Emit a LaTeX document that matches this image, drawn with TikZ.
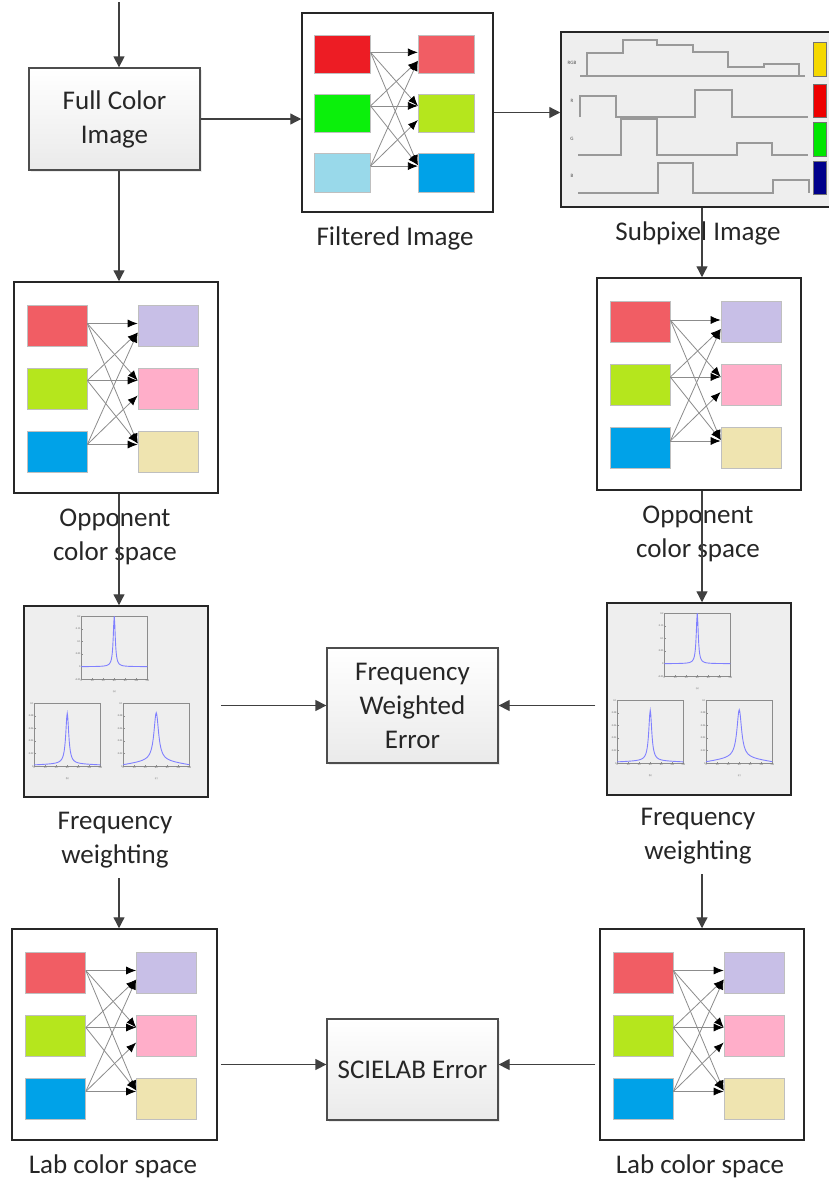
\documentclass[tikz,border=0pt]{standalone}
\usepackage{fontspec}
\setmainfont{Carlito}
\usetikzlibrary{arrows.meta,shadows,calc}

\definecolor{inkgray}{HTML}{262626}
\definecolor{flowcol}{HTML}{404040}
\definecolor{edgecol}{HTML}{4D4D4D}
\definecolor{framecol}{HTML}{262626}
\definecolor{boxgray}{HTML}{EAEAEA}
\definecolor{panel}{HTML}{EEEEEE}
\definecolor{curveblue}{HTML}{8080FF}
% chip colours
\definecolor{chipRed}{HTML}{ED1C24}
\definecolor{chipGreen}{HTML}{0BF00B}
\definecolor{chipSky}{HTML}{99D9EA}
\definecolor{chipSalmon}{HTML}{F15D64}
\definecolor{chipLime}{HTML}{B5E61D}
\definecolor{chipBlue}{HTML}{00A2E8}
\definecolor{chipLavender}{HTML}{C8BFE7}
\definecolor{chipRose}{HTML}{FFAEC9}
\definecolor{chipSand}{HTML}{EFE4B0}
% subpixel bars
\definecolor{barYellow}{HTML}{F5D800}
\definecolor{barRed}{HTML}{EE0000}
\definecolor{barGreen}{HTML}{00E600}
\definecolor{barNavy}{HTML}{00008B}

\newcommand\bodyfont{\fontsize{27}{34}\selectfont}

\tikzset{
  procbox/.style={draw=edgecol, line width=1.3pt, top color=white, bottom color=boxgray,
    drop shadow={opacity=0.15, shadow xshift=2pt, shadow yshift=-2pt},
    text=inkgray, align=center, font=\bodyfont, inner sep=0pt},
  frame/.style={draw=framecol, line width=1.5pt, fill=white, inner sep=0pt},
  grayframe/.style={frame, fill=panel},
  lbl/.style={text=inkgray, align=center, font=\bodyfont, inner sep=1pt},
  flow/.style={draw=flowcol, line width=1.3pt, -{Triangle[length=11pt,width=11pt]}},
  chip/.style={draw=black!25, line width=0.6pt, minimum width=60pt, minimum height=41pt, inner sep=0pt},
  mix/.style={draw=black!45, line width=0.8pt, -{Latex[length=10pt,width=8pt,color=black]}},
  axisline/.style={draw=black!45, line width=0.5pt},
  curve/.style={draw=curveblue, line width=0.9pt},
  tick/.style={font=\fontsize{2.6}{3}\selectfont, text=black!60, inner sep=0.5pt},
  wave/.style={draw=black!40, line width=1.2pt},
  wavetag/.style={font=\fontsize{5}{6}\selectfont, text=black!70, inner sep=0pt},
  bar/.style={draw=black!55, line width=0.5pt},
}

% 3x3 colour mixing panel inside frame #1
\newcommand\mixer[8]{%
  \begin{scope}[shift={(#1.center)}, scale=#8, transform shape]
    \node[chip, fill=#2] (#1-l1) at (-59,-62) {};
    \node[chip, fill=#3] (#1-l2) at (-59,1) {};
    \node[chip, fill=#4] (#1-l3) at (-59,64) {};
    \node[chip, fill=#5] (#1-r1) at (52,-62) {};
    \node[chip, fill=#6] (#1-r2) at (52,1) {};
    \node[chip, fill=#7] (#1-r3) at (52,64) {};
    \foreach \i/\so in {1/-2,2/-8,3/-7}
      \foreach \j in {1,2,3}{
        \pgfmathsetmacro\endoff{\i==\j ? \so : (\i<\j ? -8 : 7)}
        \draw[mix] ([shift={(0,\so)}]#1-l\i.east) -- ([shift={(0,\endoff)}]#1-r\j.west);
      }
  \end{scope}}

% small spectrum plot: corner, tag, base, tilt, peak, width, y labels
\newcommand\specplot[8]{%
  \begin{scope}[shift={(#1,#2)}]
    \draw[axisline] (0,0) rectangle (66,63);
    \foreach \t [count=\k from 0] in {0,20,40,60,80,100,120}{
      \draw[axisline] (\k*11,63) -- ++(0,-1.5);
      \node[tick, below] at (\k*11,63) {\t};}
    \foreach \t [count=\k from 0] in {#8}{
      \draw[axisline] (0,\k*12.6) -- ++(1.5,0);
      \node[tick, left] at (0,\k*12.6) {\t};}
    \draw[curve] plot[domain=0:66, samples=133]
      (\x, {63*(1-(#4+#5*(1-abs(\x-33)/33)+#6/(1+((\x-33)/#7)^2)))});
    \node[tick] at (33,75) {(#3)};
  \end{scope}}

\begin{document}
\begin{tikzpicture}[x=1pt, y=-1pt]
  \useasboundingbox (0,0) rectangle (828,1184);
  \coordinate (colL) at (119,0);
  \coordinate (colR) at (702,0);
  \coordinate (src) at (119,2);

  % process boxes
  \node[procbox, minimum width=171pt, minimum height=102pt] (fci) at (114.5,119) {Full Color\\Image};
  \node[procbox, minimum width=171pt, minimum height=115pt] (fwe) at (412.5,705.5) {Frequency\\Weighted\\Error};
  \node[procbox, minimum width=171pt, minimum height=101pt] (sce) at (412.5,1069.5) {SCIELAB Error};

  % image panels
  \node[frame, minimum width=191pt, minimum height=199pt] (filt) at (397.5,112.5) {};
  \node[grayframe, minimum width=284pt, minimum height=175pt] (sub) at (703,119.5) {};
  \node[frame, minimum width=204pt, minimum height=211pt] (oppL) at (116,387.5) {};
  \node[frame, minimum width=204pt, minimum height=212pt] (oppR) at (699,384) {};
  \node[grayframe, minimum width=184pt, minimum height=191pt] (fwL) at (116,701.5) {};
  \node[grayframe, minimum width=184pt, minimum height=192pt] (fwR) at (699,699) {};
  \node[frame, minimum width=205pt, minimum height=211pt] (labL) at (114.5,1034.5) {};
  \node[frame, minimum width=204pt, minimum height=211pt] (labR) at (702,1034.5) {};

  % captions
  \node[lbl] (filtLbl) at (395,238) {Filtered Image};
  \node[lbl] (subLbl) at (698,233) {Subpixel Image};
  \node[lbl] (oppLlbl) at (115,537) {Opponent\\color space};
  \node[lbl] (oppRlbl) at (698,534) {Opponent\\color space};
  \node[lbl] (fwLlbl) at (115,840) {Frequency\\weighting};
  \node[lbl] (fwRlbl) at (698,836) {Frequency\\weighting};
  \node[lbl] (labLlbl) at (113,1166) {Lab color space};
  \node[lbl] (labRlbl) at (700,1166) {Lab color space};

  % colour transforms
  \mixer{filt}{chipRed}{chipGreen}{chipSky}{chipSalmon}{chipLime}{chipBlue}{0.94}
  \mixer{oppL}{chipSalmon}{chipLime}{chipBlue}{chipLavender}{chipRose}{chipSand}{1}
  \mixer{oppR}{chipSalmon}{chipLime}{chipBlue}{chipLavender}{chipRose}{chipSand}{1}
  \mixer{labL}{chipSalmon}{chipLime}{chipBlue}{chipLavender}{chipRose}{chipSand}{1}
  \mixer{labR}{chipSalmon}{chipLime}{chipBlue}{chipLavender}{chipRose}{chipSand}{1}

  % subpixel waveforms
  \node[wavetag] at (572,63) {RGB};
  \node[wavetag] at (572,101) {R};
  \node[wavetag] at (572,139) {G};
  \node[wavetag] at (572,176) {B};
  \draw[wave] (580,76) -- (805,76);
  \draw[wave] (587,76) -- (587,53) -- (623,53) -- (623,40) -- (657,40) -- (657,45) -- (693,45)
    -- (693,52) -- (728,52) -- (728,67) -- (764,67) -- (764,64) -- (799,64) -- (799,76);
  \draw[wave] (580,117) -- (580,96) -- (616,96) -- (616,117) -- (695,117) -- (695,90)
    -- (732,90) -- (732,117) -- (808,117);
  \draw[wave] (578,155) -- (621,155) -- (621,119) -- (657,119) -- (657,155) -- (737,155)
    -- (737,143) -- (772,143) -- (772,155) -- (808,155);
  \draw[wave] (578,193) -- (658,193) -- (658,163) -- (693,163) -- (693,193) -- (773,193)
    -- (773,180) -- (809,180) -- (809,193);
  \draw[bar, fill=barYellow] (813,42) rectangle (826,76);
  \draw[bar, fill=barRed] (813,84) rectangle (826,117);
  \draw[bar, fill=barGreen] (813,122) rectangle (826,156);
  \draw[bar, fill=barNavy] (813,161) rectangle (826,194);

  % weighting spectra
  \foreach \p in {fwL,fwR}{
    \begin{scope}[shift={(\p.north west)}]
      \specplot{58}{11}{a}{0.2}{0}{0.8}{1.2}{0.2,0.15,0.1,0.05,0,-0.05}
      \specplot{11}{98}{b}{0.02}{0.02}{0.8}{1.8}{0.1,0.08,0.06,0.04,0.02,0}
      \specplot{100}{98}{c}{0.02}{0.08}{0.75}{2.8}{0.1,0.08,0.06,0.04,0.02,0}
    \end{scope}
  }

  % connectors
  \draw[flow] (src) -- (fci.north -| src);
  \draw[flow] (fci.east) -- (fci.east -| filt.west);
  \draw[flow] (filt.east) -- (filt.east -| sub.west);
  \draw[flow] (fci.south -| colL) -- (oppL.north -| colL);
  \draw[flow] (sub.south -| colR) -- (oppR.north -| colR);
  \draw[flow] (oppL.south -| colL) -- (fwL.north -| colL);
  \draw[flow] (oppR.south -| colR) -- (fwR.north -| colR);
  \draw[flow] ([yshift=-9pt]fwLlbl.south -| colL) -- (labL.north -| colL);
  \draw[flow] ([yshift=-9pt]fwRlbl.south -| colR) -- (labR.north -| colR);
  \draw[flow] ([xshift=12pt]fwL.east |- fwe.west) -- (fwe.west);
  \draw[flow] ([xshift=-11pt]fwR.west |- fwe.east) -- (fwe.east);
  \draw[flow] ([xshift=3pt,yshift=5pt]labL.east |- sce.west) -- ([yshift=5pt]sce.west);
  \draw[flow] ([xshift=-4pt,yshift=5pt]labR.west |- sce.east) -- ([yshift=5pt]sce.east);
\end{tikzpicture}
\end{document}
